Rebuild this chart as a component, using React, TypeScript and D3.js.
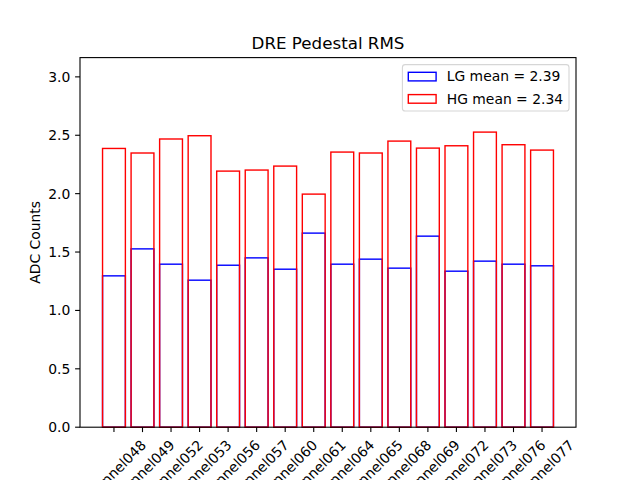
import React from 'react';
import * as d3 from 'd3';

const channels = [
  'Channel048', 'Channel049', 'Channel052', 'Channel053',
  'Channel056', 'Channel057', 'Channel060', 'Channel061',
  'Channel064', 'Channel065', 'Channel068', 'Channel069',
  'Channel072', 'Channel073', 'Channel076', 'Channel077',
];
const lgRms = [1.296, 1.527, 1.396, 1.259, 1.387, 1.450, 1.353, 1.662, 1.396, 1.439, 1.362, 1.636, 1.336, 1.422, 1.396, 1.382];
const hgRms = [2.387, 2.348, 2.468, 2.496, 2.193, 2.202, 2.236, 1.996, 2.356, 2.348, 2.450, 2.390, 2.410, 2.527, 2.419, 2.373];
const yTicks = [0, 0.5, 1.0, 1.5, 2.0, 2.5, 3.0];
const legendLabels = ['LG mean = 2.39', 'HG mean = 2.34'];

const W = 640;
const H = 480;
const margin = { top: 57.6, right: 64, bottom: 52.8, left: 80 };
const font = 'DejaVu Sans, sans-serif';

const App = () => {
  const x = d3.scaleLinear()
    .domain([-1.19, 16.19])
    .range([margin.left, W - margin.right]);
  const y = d3.scaleLinear()
    .domain([0, 3.165])
    .range([H - margin.bottom, margin.top]);

  const barW = x(0.4) - x(-0.4);
  const bottom = H - margin.bottom;
  const labelOffset = 35.3;

  return (
    <svg width={W} height={H} style={{ position: 'absolute', left: 0, top: 0 }} fontFamily={font}>
      <rect width={W} height={H} fill="#fff" />

      {/* LG bars first, HG on top */}
      {lgRms.map((v, i) => (
        <rect key={'lg' + i} x={x(i) - barW / 2} y={y(v)} width={barW} height={bottom - y(v)}
          fill="none" stroke="#0000ff" strokeWidth={1.4} />
      ))}
      {hgRms.map((v, i) => (
        <rect key={'hg' + i} x={x(i) - barW / 2} y={y(v)} width={barW} height={bottom - y(v)}
          fill="none" stroke="#ff0000" strokeWidth={1.4} />
      ))}

      {/* axes frame */}
      <rect x={margin.left} y={margin.top} width={W - margin.left - margin.right}
        height={H - margin.top - margin.bottom} fill="none" stroke="#000" strokeWidth={1.1} />

      {/* y ticks */}
      {yTicks.map(t => (
        <g key={'y' + t}>
          <line x1={margin.left - 4.9} x2={margin.left} y1={y(t)} y2={y(t)} stroke="#000" strokeWidth={1.1} />
          <text x={margin.left - 9.7} y={y(t)} dy="0.35em" textAnchor="end" fontSize={13.9}>{t.toFixed(1)}</text>
        </g>
      ))}

      {/* x ticks */}
      {channels.map((c, i) => (
        <g key={c}>
          <line x1={x(i)} x2={x(i)} y1={bottom} y2={bottom + 4.9} stroke="#000" strokeWidth={1.1} />
          <text transform={`translate(${x(i)},${bottom + 9.7 + labelOffset}) rotate(-45)`}
            textAnchor="middle" dy="0.35em" fontSize={13.9}>{c}</text>
        </g>
      ))}

      <text x={35} y={(margin.top + bottom) / 2} transform={`rotate(-90,35,${(margin.top + bottom) / 2})`}
        textAnchor="middle" dy="0.35em" fontSize={13.9}>ADC Counts</text>

      <text x={(margin.left + W - margin.right) / 2} y={49.3} textAnchor="middle" fontSize={16.7}>DRE Pedestal RMS</text>

      {/* legend */}
      <rect x={402.4} y={64.6} width={166.6} height={46.4} rx={2.8} fill="#fff" fillOpacity={0.8}
        stroke="#d6d6d6" strokeWidth={1.1} />
      {legendLabels.map((l, i) => (
        <g key={l}>
          <rect x={408.3} y={72.3 + i * 22.3} width={27.8} height={8.6} fill="none"
            stroke={i === 0 ? '#0000ff' : '#ff0000'} strokeWidth={1.4} />
          <text x={446.7} y={76.6 + i * 22.3} dy="0.35em" fontSize={13.9}>{l}</text>
        </g>
      ))}
    </svg>
  );
};

export default App;
